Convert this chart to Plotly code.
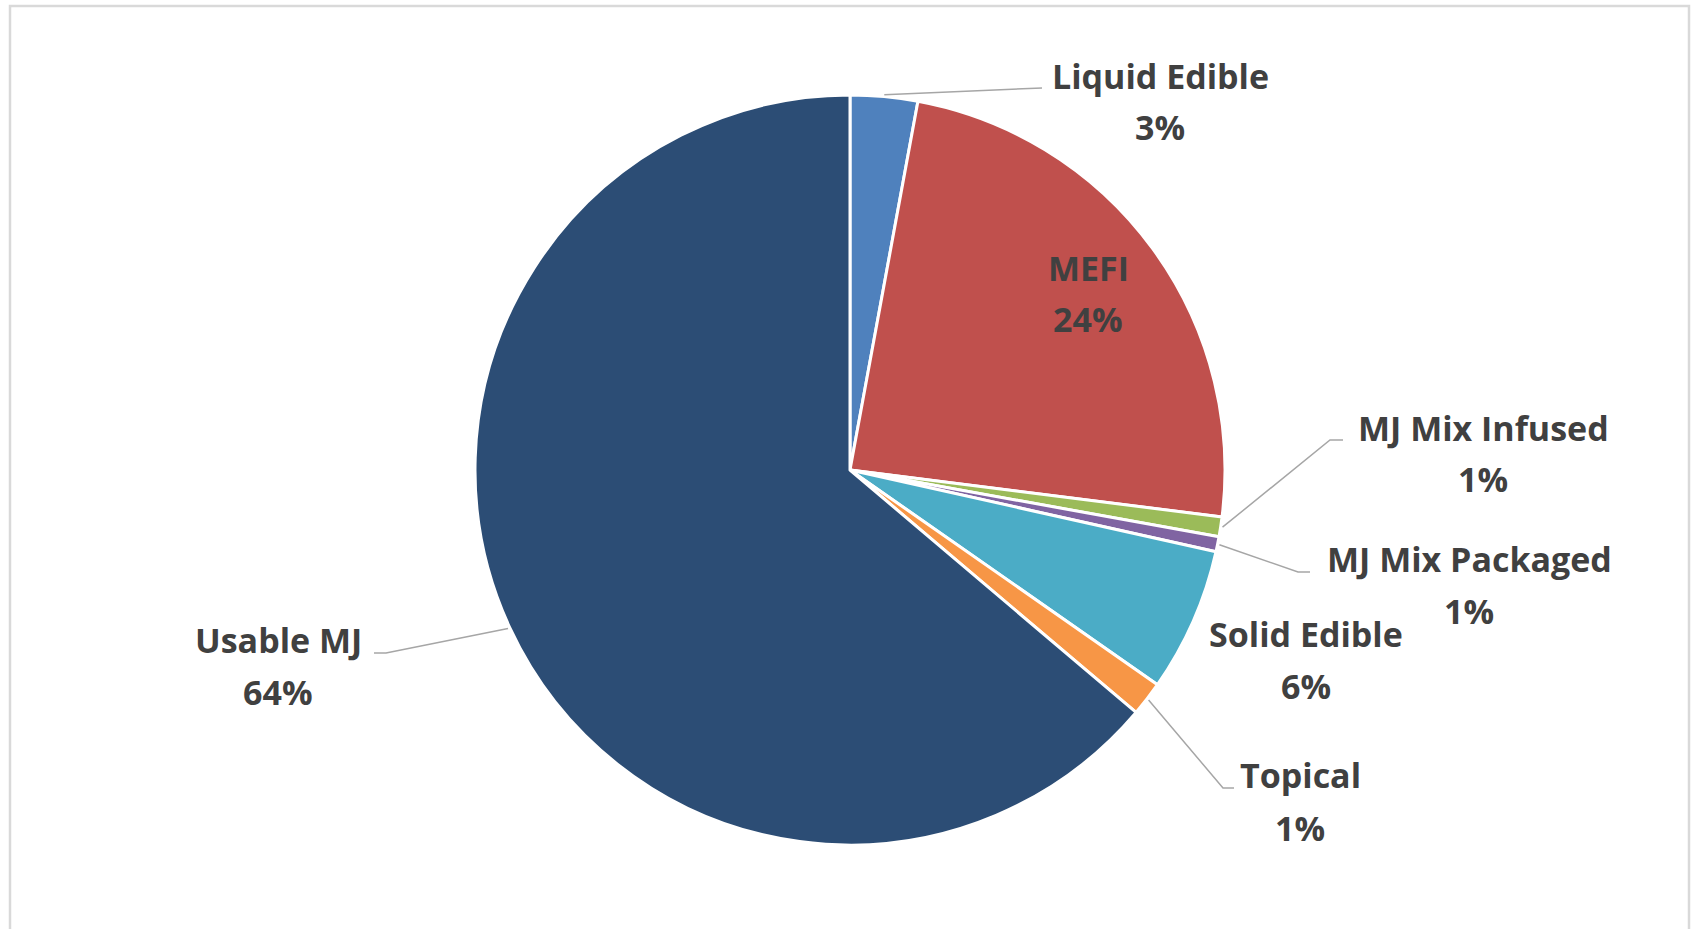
import math
import plotly.graph_objects as go

# ---------------- data ----------------
categories = ["Liquid Edible", "MEFI", "MJ Mix Infused", "MJ Mix Packaged",
              "Solid Edible", "Topical", "Usable MJ"]
shares = [2.9, 24.1, 0.85, 0.65, 6.2, 1.49, 63.81]
colors = ["#4F81BD", "#C0504D", "#9BBB59", "#8064A2",
          "#4BACC6", "#F79646", "#2C4D75"]

# ---------------- layout constants (pixels, page coordinates) ----------------
W, H = 1692, 929
CX, CY, R = 850, 470, 375
TEXT_COLOR = "#404040"
FONT = "Open Sans"
FSIZE = 34

# label placement: (x center, name line y, percent line y)
label_pos = {
    "Liquid Edible": (1160, 76, 127),
    "MEFI": (1088, 268, 319),
    "MJ Mix Infused": (1483, 428, 479),
    "MJ Mix Packaged": (1469, 559, 611),
    "Solid Edible": (1306, 634, 686),
    "Topical": (1300, 775, 828),
    "Usable MJ": (278, 640, 692),
}
# leader lines: (elbow point, end point)
leaders = {
    "Liquid Edible": (None, (1042, 88)),
    "MJ Mix Infused": ((1330, 440), (1343, 440)),
    "MJ Mix Packaged": ((1298, 572), (1310, 572)),
    "Topical": ((1223, 788), (1234, 788)),
    "Usable MJ": ((386, 653), (374, 653)),
}


def px(x):
    return x / W


def py(y):
    return 1 - y / H


fig = go.Figure()
fig.add_trace(go.Pie(
    labels=categories,
    values=shares,
    sort=False,
    direction="clockwise",
    rotation=0,
    marker=dict(colors=colors, line=dict(color="white", width=3)),
    textinfo="none",
    hoverinfo="label+percent",
    showlegend=False,
    domain=dict(x=[px(CX - R), px(CX + R)], y=[py(CY + R), py(CY - R)]),
))

total = sum(shares)
cum = 0.0
shapes = []
annotations = []
for name, v in zip(categories, shares):
    mid = (cum + v / 2) / total * 2 * math.pi
    cum += v
    pct = f"{round(v / total * 100)}%"
    tx, ny, pyy = label_pos[name]
    for txt, yy in ((name, ny), (pct, pyy)):
        annotations.append(dict(x=px(tx), y=py(yy), xref="paper", yref="paper",
                                text=f"<b>{txt}</b>", showarrow=False,
                                xanchor="center", yanchor="middle",
                                font=dict(family=FONT, size=FSIZE, color=TEXT_COLOR)))
    if name in leaders:
        elbow, end = leaders[name]
        sx = CX + R * 1.005 * math.sin(mid)
        sy = CY - R * 1.005 * math.cos(mid)
        pts = [(sx, sy)] + ([elbow] if elbow else []) + [end]
        path = "M " + " L ".join(f"{px(a)},{py(b)}" for a, b in pts)
        shapes.append(dict(type="path", path=path, xref="paper", yref="paper",
                           line=dict(color="#A6A6A6", width=1.5)))

# chart frame
shapes.append(dict(type="rect", xref="paper", yref="paper",
                   x0=px(10), x1=px(1689), y0=py(950), y1=py(6),
                   line=dict(color="#D9D9D9", width=2.5)))

fig.update_layout(
    width=W, height=H,
    margin=dict(l=0, r=0, t=0, b=0),
    paper_bgcolor="white",
    plot_bgcolor="white",
    shapes=shapes,
    annotations=annotations,
)

fig.write_html("out.html",
               config={"displayModeBar": False},
               post_script="document.body.style.margin='0';"
                           "document.body.style.overflow='hidden';")
